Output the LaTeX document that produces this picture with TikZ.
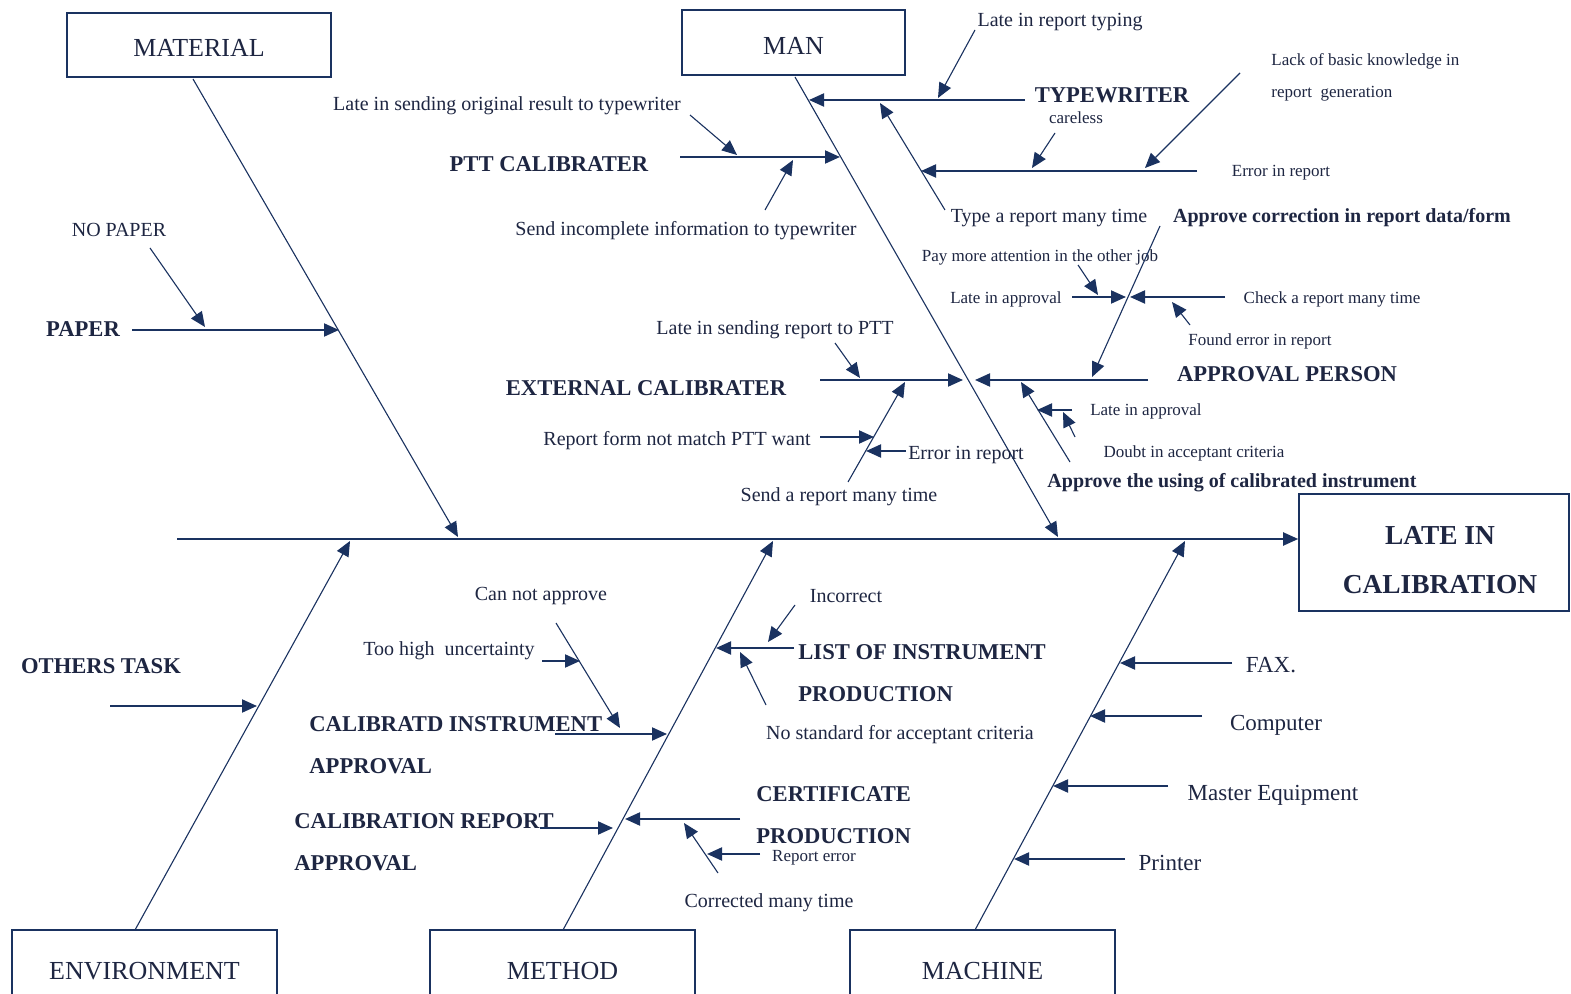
\documentclass[tikz,border=0pt]{standalone}
\usepackage{fontspec}
\setmainfont{Liberation Serif}
\usetikzlibrary{arrows.meta}
\definecolor{navy}{RGB}{26,50,96}
\definecolor{ink}{RGB}{30,38,66}
\begin{document}
\begin{tikzpicture}[x=0.5pt,y=-0.5pt,
  thin/.style={draw=navy,line width=0.55pt},
  thick/.style={draw=navy,line width=1pt},
  arr/.style={-{Triangle[length=7.5pt,width=6.5pt]}},
  lbl/.style={text=ink,inner sep=0pt,yshift=-1.5pt,font=\fontsize{10}{12}\selectfont},
  sml/.style={text=ink,inner sep=0pt,yshift=-1.5pt,font=\fontsize{8.5}{10}\selectfont},
  mach/.style={text=ink,inner sep=0pt,yshift=-1.5pt,font=\fontsize{11.5}{13}\selectfont},
  blbl/.style={text=ink,inner sep=0pt,yshift=-1.2pt,font=\fontsize{11.3}{21}\selectfont\bfseries,align=left},
  bsm/.style={text=ink,inner sep=0pt,yshift=-1.5pt,font=\fontsize{10}{12}\selectfont\bfseries},
  catbox/.style={draw=navy,line width=0.8pt,text=ink,inner sep=0pt,text depth=0pt,text height=11.6pt,font=\fontsize{13}{15}\selectfont}]
\useasboundingbox (0,0) rectangle (1571,994);
\clip (0,0) rectangle (1571,994);
\fill[white] (0,0) rectangle (1571,994);

% category boxes
\node[catbox,minimum width=132pt,minimum height=32pt] (mat) at (199,45) {MATERIAL};
\node[catbox,minimum width=111.5pt,minimum height=32.5pt] (man) at (793.5,42.5) {MAN};
\node[catbox,minimum width=132.5pt,minimum height=38pt] (env) at (144.5,968) {ENVIRONMENT};
\node[catbox,minimum width=132.5pt,minimum height=38pt] (met) at (562.5,968) {METHOD};
\node[catbox,minimum width=132.5pt,minimum height=38pt] (mac) at (982.5,968) {MACHINE};
\node[draw=navy,line width=0.8pt,minimum width=135pt,minimum height=58.5pt] (res) at (1434,552.5) {};
\node[text=ink,inner sep=0pt,align=center,font=\fontsize{13.7}{24.5}\selectfont\bfseries] (restext) at (1440,560) {LATE IN\\CALIBRATION};

% spine
\coordinate (s0) at (177,539);
\draw[thick,arr] (s0) -- (s0 -| res.west);

% bones
\coordinate (m0) at (193,79);   \coordinate (m1) at (458,537);
\coordinate (n0) at (795,77);   \coordinate (n1) at (1058,537);
\coordinate (e0) at (135,930);  \coordinate (e1) at (350,541);
\coordinate (t0) at (563,930);  \coordinate (t1) at (773,541);
\coordinate (c0) at (975,930);  \coordinate (c1) at (1185,541);
\draw[thin,arr] (m0) -- (m1);
\draw[thin,arr] (n0) -- (n1);
\draw[thin,arr] (e0) -- (e1);
\draw[thin,arr] (t0) -- (t1);
\draw[thin,arr] (c0) -- (c1);

% ---------- MATERIAL
\node[blbl] (paper) at (83,327) {PAPER};
\node[lbl] (nopaper) at (119,227) {NO PAPER};
\coordinate (pa0) at (132,330); \coordinate (pa1) at (339,330);
\draw[thick,arr] (pa0) -- (pa1);
\coordinate (np0) at (150,248); \coordinate (np1) at (205,327);
\draw[thin,arr] (np0) -- (np1);

% ---------- MAN
\node[lbl] (lrt) at (1060,19) {Late in report typing};
\node[blbl] (typ) at (1112,93) {TYPEWRITER};
\node[sml] (care) at (1076,115) {careless};
\node[sml,align=left,anchor=west,font=\fontsize{8.5}{16}\selectfont] (lack) at (1271,74) {Lack of basic knowledge in\\report\ \ generation};
\node[sml] (err1) at (1281,170) {Error in report};
\node[lbl] (lso) at (507,103) {Late in sending original result to typewriter};
\node[blbl] (ptt) at (549,162) {PTT CALIBRATER};
\node[lbl] (sii) at (686,228) {Send incomplete information to typewriter};
\node[lbl] (tarm) at (1049,215) {Type a report many time};
\node[bsm] (acr) at (1342,215) {Approve correction in report data/form};
\node[sml] (pma) at (1040,254) {Pay more attention in the other job};
\node[sml] (lia1) at (1006,296) {Late in approval};
\node[sml] (crm) at (1332,296) {Check a report many time};
\node[sml] (fer) at (1260,338) {Found error in report};
\node[blbl] (appp) at (1287,372) {APPROVAL PERSON};
\node[lbl] (lsr) at (775,327) {Late in sending report to PTT};
\node[blbl] (ext) at (646,386) {EXTERNAL CALIBRATER};
\node[sml] (lia2) at (1146,408) {Late in approval};
\node[lbl] (rfn) at (677,438) {Report form not match PTT want};
\node[lbl] (err2) at (966,452) {Error in report};
\node[sml] (dac) at (1194,450) {Doubt in acceptant criteria};
\node[bsm] (aus) at (1232,480) {Approve the using of calibrated instrument};
\node[lbl] (sarm) at (839,494) {Send a report many time};

\coordinate (ty0) at (1025,100); \coordinate (ty1) at (809,100);
\draw[thick,arr] (ty0) -- (ty1);
\coordinate (lr0) at (975,30);   \coordinate (lr1) at (938,98);
\draw[thin,arr] (lr0) -- (lr1);
\coordinate (ta0) at (945,210);  \coordinate (ta1) at (880,103);
\draw[thin,arr] (ta0) -- (ta1);
\coordinate (er0) at (1197,171); \coordinate (er1) at (921,171);
\draw[thick,arr] (er0) -- (er1);
\coordinate (ca0) at (1055,133); \coordinate (ca1) at (1032,168);
\draw[thin,arr] (ca0) -- (ca1);
\coordinate (lk0) at (1240,73);  \coordinate (lk1) at (1145,168);
\draw[thin,arr] (lk0) -- (lk1);
\coordinate (pt0) at (680,157);  \coordinate (pt1) at (840,157);
\draw[thick,arr] (pt0) -- (pt1);
\coordinate (lo0) at (690,115);  \coordinate (lo1) at (737,155);
\draw[thin,arr] (lo0) -- (lo1);
\coordinate (si0) at (765,210);  \coordinate (si1) at (793,160);
\draw[thin,arr] (si0) -- (si1);
\coordinate (ex0) at (820,380);  \coordinate (ex1) at (963,380);
\draw[thick,arr] (ex0) -- (ex1);
\coordinate (ap0) at (1148,380); \coordinate (ap1) at (975,380);
\draw[thick,arr] (ap0) -- (ap1);
\coordinate (ls0) at (835,343);  \coordinate (ls1) at (860,378);
\draw[thin,arr] (ls0) -- (ls1);
\coordinate (sa0) at (848,482);  \coordinate (sa1) at (905,382);
\draw[thin,arr] (sa0) -- (sa1);
\coordinate (rf0) at (820,437);  \coordinate (rf1) at (874,437);
\draw[thick,arr] (rf0) -- (rf1);
\coordinate (em0) at (906,451);  \coordinate (em1) at (866,451);
\draw[thick,arr] (em0) -- (em1);
\coordinate (ac0) at (1160,226); \coordinate (ac1) at (1092,377);
\draw[thin,arr] (ac0) -- (ac1);
\coordinate (pm0) at (1078,265); \coordinate (pm1) at (1098,295);
\draw[thin,arr] (pm0) -- (pm1);
\coordinate (la0) at (1072,297); \coordinate (la1) at (1126,297);
\draw[thick,arr] (la0) -- (la1);
\coordinate (ck0) at (1225,297); \coordinate (ck1) at (1130,297);
\draw[thick,arr] (ck0) -- (ck1);
\coordinate (fe0) at (1190,325); \coordinate (fe1) at (1172,302);
\draw[thin,arr] (fe0) -- (fe1);
\coordinate (au0) at (1070,462); \coordinate (au1) at (1021,382);
\draw[thin,arr] (au0) -- (au1);
\coordinate (lb0) at (1072,410); \coordinate (lb1) at (1037,410);
\draw[thick,arr] (lb0) -- (lb1);
\coordinate (db0) at (1075,437); \coordinate (db1) at (1063,412);
\draw[thin,arr] (db0) -- (db1);

% ---------- ENVIRONMENT
\node[blbl] (oth) at (101,664) {OTHERS TASK};
\coordinate (ot0) at (110,706); \coordinate (ot1) at (257,706);
\draw[thick,arr] (ot0) -- (ot1);

% ---------- METHOD
\node[lbl] (cna) at (541,593) {Can not approve};
\node[lbl] (thu) at (449,648) {Too high\ \ uncertainty};
\node[blbl,anchor=west] (cia) at (309,743) {CALIBRATD INSTRUMENT\\APPROVAL};
\node[blbl,anchor=west] (cra) at (294,840) {CALIBRATION REPORT\\APPROVAL};
\node[lbl] (inc) at (846,593) {Incorrect};
\node[blbl,anchor=west] (lip) at (798,671) {LIST OF INSTRUMENT\\PRODUCTION};
\node[lbl] (nsa) at (900,732) {No standard for acceptant criteria};
\node[blbl,anchor=west] (cep) at (756,813) {CERTIFICATE\\PRODUCTION};
\node[sml] (rer) at (814,855) {Report error};
\node[lbl] (cmt) at (769,900) {Corrected many time};

\coordinate (ci0) at (555,734); \coordinate (ci1) at (667,734);
\draw[thick,arr] (ci0) -- (ci1);
\coordinate (cn0) at (556,623); \coordinate (cn1) at (620,728);
\draw[thin,arr] (cn0) -- (cn1);
\coordinate (th0) at (542,661); \coordinate (th1) at (580,661);
\draw[thick,arr] (th0) -- (th1);
\coordinate (cr0) at (540,828); \coordinate (cr1) at (613,828);
\draw[thick,arr] (cr0) -- (cr1);
\coordinate (li0) at (794,648); \coordinate (li1) at (716,648);
\draw[thick,arr] (li0) -- (li1);
\coordinate (ic0) at (795,605); \coordinate (ic1) at (768,642);
\draw[thin,arr] (ic0) -- (ic1);
\coordinate (ns0) at (766,705); \coordinate (ns1) at (740,652);
\draw[thin,arr] (ns0) -- (ns1);
\coordinate (ce0) at (740,819); \coordinate (ce1) at (625,819);
\draw[thick,arr] (ce0) -- (ce1);
\coordinate (re0) at (760,854); \coordinate (re1) at (707,854);
\draw[thick,arr] (re0) -- (re1);
\coordinate (co0) at (718,873); \coordinate (co1) at (684,823);
\draw[thin,arr] (co0) -- (co1);

% ---------- MACHINE
\node[mach] (fax) at (1271,662) {FAX.};
\node[mach] (cmp) at (1276,722) {Computer};
\node[mach] (mse) at (1273,792) {Master Equipment};
\node[mach] (prn) at (1170,860) {Printer};
\coordinate (fx0) at (1232,663); \coordinate (fx1) at (1120,663);
\draw[thick,arr] (fx0) -- (fx1);
\coordinate (cp0) at (1202,716); \coordinate (cp1) at (1090,716);
\draw[thick,arr] (cp0) -- (cp1);
\coordinate (ms0) at (1168,786); \coordinate (ms1) at (1053,786);
\draw[thick,arr] (ms0) -- (ms1);
\coordinate (pr0) at (1125,859); \coordinate (pr1) at (1014,859);
\draw[thick,arr] (pr0) -- (pr1);
\end{tikzpicture}
\end{document}
